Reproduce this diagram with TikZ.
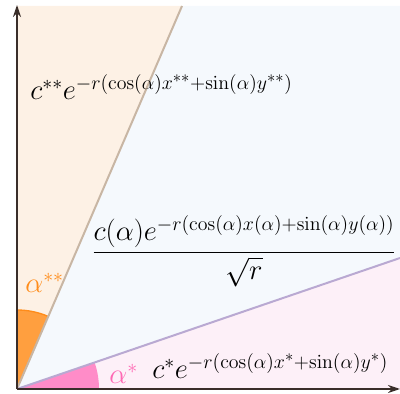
\documentclass[tikz,border=0pt]{standalone}
\usepackage{amsmath}
\usepackage{graphicx}
\usetikzlibrary{arrows.meta,calc}
\definecolor{orfill}{HTML}{FDF1E5}
\definecolor{blfill}{HTML}{F5F9FD}
\definecolor{pkfill}{HTML}{FDF0F8}
\definecolor{orline}{HTML}{C8B6A4}
\definecolor{pkline}{HTML}{B9A9D2}
\definecolor{orwedge}{HTML}{FF9F3F}
\definecolor{orarc}{HTML}{FF8C1A}
\definecolor{pkwedge}{HTML}{FF8CC8}
\definecolor{pktext}{HTML}{FF69B4}
\definecolor{axcol}{HTML}{3A2E2A}
\newcommand{\bigf}[1]{\scalebox{1.035}{#1}}
\tikzset{
  formula/.style={inner sep=0pt, font=\fontsize{20.74}{25}\selectfont},
  axisline/.style={draw=axcol, line width=1.2pt, -{Stealth[length=9pt,width=6pt]}},
}
\begin{document}
\begin{tikzpicture}[x=0.75pt,y=0.75pt]
\useasboundingbox (0,0) rectangle (400,393);
\coordinate (O) at (17,4);
\coordinate (U) at (182,387);
\coordinate (L) at (400,135);
\coordinate (Ytop) at (17,388);
\coordinate (Xend) at (400,4);
\coordinate (A1) at ($(O)+(90:79)$);
% region fills
\fill[orfill] (O) -- (17,387) -- (U) -- cycle;
\fill[blfill] (O) -- (U) -- (400,387) -- (L) -- cycle;
\fill[pkfill] (O) -- (L) -- (400,4) -- cycle;
% wedges
\fill[orwedge] (O) -- (A1) arc[start angle=90,end angle=66.7,radius=79] -- cycle;
\draw[orarc, line width=1pt] (A1) arc[start angle=90,end angle=66.7,radius=79];
\fill[pkwedge] (O) -- ++(0:82) arc[start angle=0,end angle=18.9,radius=82] -- cycle;
% boundary lines
\draw[orline, line width=1.5pt] (O) -- (U);
\draw[pkline, line width=1.5pt] (O) -- (L);
% axes
\draw[axisline] (O) -- (Ytop);
\draw[axisline] (O) -- (Xend);
% labels
\node[formula, anchor=base west] (top) at (30,293) {\bigf{$c^{**}e^{-r(\cos(\alpha)x^{**}+\sin(\alpha)y^{**})}$}};
\node[formula, anchor=center] (mid) at (244,142) {\bigf{$\dfrac{c(\alpha)e^{-r(\cos(\alpha)x(\alpha)+\sin(\alpha)y(\alpha))}}{\sqrt{r}}$}};
\node[formula, anchor=base west] (bot) at (152,14) {\bigf{$c^{*}e^{-r(\cos(\alpha)x^{*}+\sin(\alpha)y^{*})}$}};
\node[formula, text=orarc, anchor=base west] (aa) at (25,100) {\bigf{$\alpha^{**}$}};
\node[formula, text=pktext, anchor=base west] (a) at (109,9) {\bigf{$\alpha^{*}$}};
\end{tikzpicture}
\end{document}
